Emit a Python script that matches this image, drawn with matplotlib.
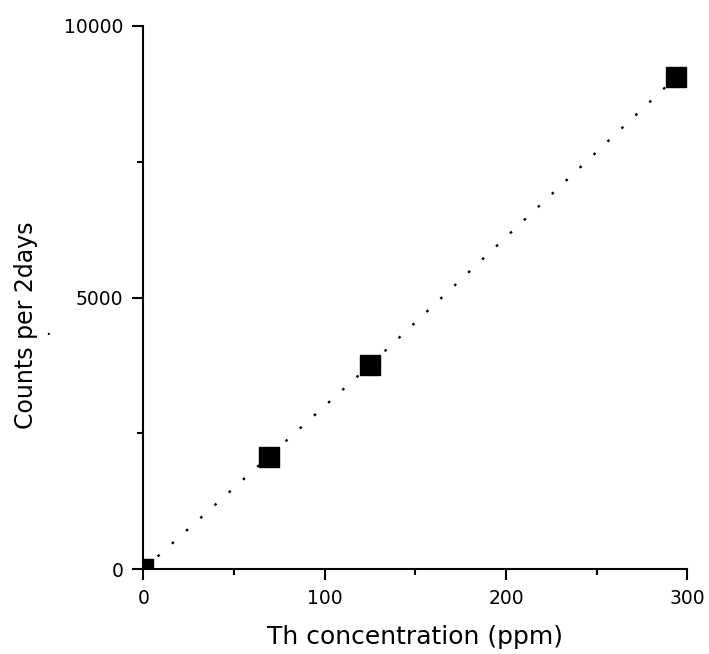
import matplotlib
matplotlib.use("Agg")
import matplotlib.pyplot as plt
from matplotlib.ticker import MultipleLocator

plt.rcParams['font.family'] = ['DejaVu Sans']

th_ppm = [0, 69, 125, 294]
counts = [0, 2070, 3758, 9060]

fig = plt.figure(figsize=(7.09, 6.54), dpi=100)
ax = fig.add_axes([0.2023, 0.1295, 0.7671, 0.8312])

ax.plot(th_ppm, counts, linestyle=(0, (1.1, 7)), color="black", lw=1.7, zorder=1)
ax.plot(th_ppm, counts, linestyle="none", marker="s", ms=13.7, color="black", zorder=2)

ax.set_xlim(0, 300)
ax.set_ylim(0, 10000)
ax.xaxis.set_major_locator(MultipleLocator(100))
ax.xaxis.set_minor_locator(MultipleLocator(50))
ax.yaxis.set_major_locator(MultipleLocator(5000))
ax.yaxis.set_minor_locator(MultipleLocator(2500))

for s in ["top", "right"]:
    ax.spines[s].set_visible(False)
for s in ["left", "bottom"]:
    ax.spines[s].set_linewidth(1.5)

ax.tick_params(which="major", direction="out", length=8, width=1.5, pad=6.5, labelsize=13.5)
ax.tick_params(which="minor", direction="out", length=4, width=1.5)

ax.set_xlabel("Th concentration (ppm)", fontsize=18, labelpad=12)
ax.set_ylabel("Counts per 2days", fontsize=17)
ax.yaxis.set_label_coords(-0.194, 0.449)
# stray dot next to the y label in the original
fig.text(48 / 709, 1 - 330 / 654, ".", fontsize=13, ha="center", va="center")

fig.savefig("out.png", dpi=100)
